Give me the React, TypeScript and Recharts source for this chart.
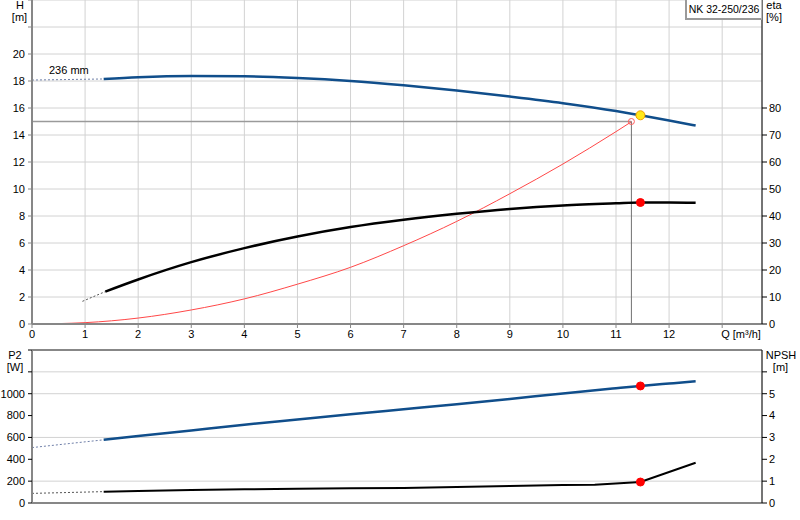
import React from "react";
import {
  LineChart,
  Line,
  XAxis,
  YAxis,
  CartesianGrid,
  ReferenceDot,
  ReferenceLine,
} from "recharts";

// ---- ticks ----
const Q_TICKS = [0, 1, 2, 3, 4, 5, 6, 7, 8, 9, 10, 11, 12, 13];
const H_TICKS = [0, 2, 4, 6, 8, 10, 12, 14, 16, 18, 20, 22, 24];
const ETA_TICKS = [0, 10, 20, 30, 40, 50, 60, 70, 80];
const P2_TICKS = [0, 200, 400, 600, 800, 1000, 1200, 1400];
const NPSH_TICKS = [0, 1, 2, 3, 4, 5, 6];
const Q_AXIS_LABEL = "Q [m³/h]";

// ---- head curve H(Q) ----
const headQ = [1.35, 2, 3, 4, 5, 6, 7, 8, 9, 10, 11, 11.46, 12, 12.5];
const headH = [18.15, 18.28, 18.37, 18.35, 18.22, 18.0, 17.68, 17.3, 16.85, 16.36, 15.78, 15.46, 15.07, 14.7];
const headExtQ = [0, 1.35];
const headExtH = [18.07, 18.15];

// ---- efficiency eta(Q) ----
const etaQ = [1.38, 2, 3, 4, 5, 6, 7, 8, 9, 10, 11, 11.46, 12, 12.5];
const etaV = [12.0, 16.5, 22.9, 28.1, 32.4, 35.9, 38.6, 40.8, 42.6, 43.9, 44.7, 45.0, 45.0, 44.9];
const etaExtQ = [0.95, 1.38];
const etaExtV = [8.4, 12.0];

// ---- system curve ----
const sysQ = [0, 0.5, 1, 2, 3, 4, 5, 6, 7, 8, 9, 10, 11, 11.29];
const sysH = [0, 0.03, 0.1, 0.44, 1.04, 1.86, 2.95, 4.2, 5.8, 7.6, 9.65, 11.85, 14.25, 14.98];

// ---- power P2(Q) ----
const p2Q = [1.35, 2, 3, 4, 5, 6, 7, 8, 9, 10, 11, 11.46, 12, 12.5];
const p2V = [578, 612, 664, 716, 764, 812, 858, 904, 952, 1003, 1050, 1071, 1093, 1113];
const p2ExtQ = [0, 1.35];
const p2ExtV = [507, 578];

// ---- NPSH(Q) ----
const npshQ = [1.35, 2, 3, 4, 5, 6, 7, 8, 9, 10, 10.6, 11.46, 12.5];
const npshV = [0.52, 0.55, 0.59, 0.63, 0.65, 0.67, 0.69, 0.73, 0.78, 0.82, 0.83, 0.96, 1.84];
const npshExtQ = [0, 1.35];
const npshExtV = [0.44, 0.52];

// ---- operating / duty point ----
const opQ = 11.46;
const opH = 15.46;
const opEta = 45.0;
const opP2 = 1071;
const opNpsh = 0.96;
const dutyQ = 11.29;
const dutyH = 15.0;

const zip = (qs: number[], vs: number[]) => qs.map((q, i) => ({ q, v: vs[i] }));

const FONT = "Arial, 'Liberation Sans', sans-serif";
const BLUE = "#104e8b";
const GRID = "#d2d2d2";
const AXIS_GRAY = "#878787";

const XTick = (props: any) => {
  const { x, y, payload } = props;
  if (payload.value === 13) {
    return (
      <text x={x - 1} y={y} dy="0.71em" textAnchor="start" fontSize={11} fill="#000" fontFamily={FONT}>
        {Q_AXIS_LABEL}
      </text>
    );
  }
  return (
    <text x={x} y={y} dy="0.71em" textAnchor="middle" fontSize={11} fill="#000" fontFamily={FONT}>
      {payload.value}
    </text>
  );
};

const tickStyle = { fontSize: 11, fill: "#000", fontFamily: FONT };

const Overlay = ({ left, top, width, text, align = "center" }: any) => (
  <div
    style={{
      position: "absolute",
      left,
      top,
      width,
      textAlign: align,
      fontFamily: FONT,
      fontSize: 11,
      lineHeight: "12px",
      color: "#000",
      whiteSpace: "nowrap",
    }}
  >
    {text}
  </div>
);

export default function App() {
  return (
    <div style={{ position: "absolute", left: 0, top: 0, width: 800, height: 520, background: "#fff", overflow: "hidden" }}>
      <div style={{ position: "absolute", left: 0, top: 0 }}>
        <LineChart width={800} height={345} margin={{ top: 0, right: 0, bottom: 0, left: 0 }}>
          <CartesianGrid stroke={GRID} yAxisId="h" />
          <XAxis
            type="number"
            dataKey="q"
            domain={[0, 13.75]}
            ticks={Q_TICKS}
            allowDataOverflow
            height={21}
            tick={<XTick />}
            tickSize={4}
            tickMargin={2}
            tickLine={{ stroke: AXIS_GRAY }}
            axisLine={{ stroke: AXIS_GRAY, strokeWidth: 2 }}
          />
          <YAxis
            yAxisId="h"
            domain={[0, 24]}
            ticks={H_TICKS}
            width={32}
            tickSize={4}
            tickMargin={3}
            tick={tickStyle}
            tickFormatter={(v: number) => (v <= 20 ? String(v) : "")}
            tickLine={{ stroke: AXIS_GRAY }}
            axisLine={{ stroke: AXIS_GRAY, strokeWidth: 2 }}
          />
          <YAxis
            yAxisId="eta"
            orientation="right"
            domain={[0, 120]}
            ticks={ETA_TICKS}
            width={38}
            tickSize={5}
            tickMargin={2}
            tick={tickStyle}
            tickLine={{ stroke: "#000" }}
            axisLine={{ stroke: "#000" }}
          />
          <ReferenceLine
            yAxisId="h"
            segment={[{ x: 0, y: dutyH }, { x: dutyQ, y: dutyH }]}
            stroke="#9a9a9a"
            strokeWidth={1.3}
          />
          <ReferenceLine
            yAxisId="h"
            segment={[{ x: dutyQ, y: 0 }, { x: dutyQ, y: dutyH }]}
            stroke="#707070"
            strokeWidth={1}
          />
          <Line yAxisId="h" data={zip(sysQ, sysH)} dataKey="v" type="monotone" stroke="#ff4848" strokeWidth={1} dot={false} isAnimationActive={false} />
          <Line yAxisId="h" data={zip(headExtQ, headExtH)} dataKey="v" type="linear" stroke="#6f7fa8" strokeWidth={1} strokeDasharray="2 2" dot={false} isAnimationActive={false} />
          <Line yAxisId="h" data={zip(headQ, headH)} dataKey="v" type="monotone" stroke={BLUE} strokeWidth={2.5} dot={false} isAnimationActive={false} />
          <Line yAxisId="eta" data={zip(etaExtQ, etaExtV)} dataKey="v" type="linear" stroke="#555" strokeWidth={1} strokeDasharray="2 2" dot={false} isAnimationActive={false} />
          <Line yAxisId="eta" data={zip(etaQ, etaV)} dataKey="v" type="monotone" stroke="#000" strokeWidth={2.5} dot={false} isAnimationActive={false} />
          <ReferenceDot yAxisId="h" x={dutyQ} y={dutyH} r={3} fill="none" stroke="#ff5a5a" strokeWidth={1} />
          <ReferenceDot yAxisId="h" x={opQ} y={opH} r={4.5} fill="#ffe81a" stroke="#f0a000" strokeWidth={1} />
          <ReferenceDot yAxisId="eta" x={opQ} y={opEta} r={4} fill="#ff0000" stroke="#ff0000" />
        </LineChart>
      </div>

      <div style={{ position: "absolute", left: 0, top: 345 }}>
        <LineChart width={800} height={175} margin={{ top: 5, right: 0, bottom: 0, left: 0 }}>
          <CartesianGrid stroke={GRID} yAxisId="p2" />
          <XAxis
            type="number"
            dataKey="q"
            domain={[0, 13.75]}
            ticks={Q_TICKS}
            allowDataOverflow
            height={17}
            tick={false}
            tickLine={false}
            axisLine={{ stroke: AXIS_GRAY, strokeWidth: 2 }}
          />
          <YAxis
            yAxisId="p2"
            domain={[0, 1400]}
            ticks={P2_TICKS}
            width={32}
            tickSize={4}
            tickMargin={3}
            tick={tickStyle}
            tickFormatter={(v: number) => (v <= 1000 ? String(v) : "")}
            tickLine={{ stroke: "#000" }}
            axisLine={{ stroke: AXIS_GRAY, strokeWidth: 2 }}
          />
          <YAxis
            yAxisId="npsh"
            orientation="right"
            domain={[0, 7]}
            ticks={NPSH_TICKS}
            width={38}
            tickSize={5}
            tickMargin={2}
            tick={tickStyle}
            tickFormatter={(v: number) => (v <= 5 ? String(v) : "")}
            tickLine={{ stroke: "#000" }}
            axisLine={{ stroke: "#000" }}
          />
          <ReferenceLine yAxisId="p2" y={1400} stroke={AXIS_GRAY} strokeWidth={2} ifOverflow="visible" />
          <Line yAxisId="p2" data={zip(p2ExtQ, p2ExtV)} dataKey="v" type="linear" stroke="#6f7fa8" strokeWidth={1} strokeDasharray="2 2" dot={false} isAnimationActive={false} />
          <Line yAxisId="p2" data={zip(p2Q, p2V)} dataKey="v" type="monotone" stroke={BLUE} strokeWidth={2.5} dot={false} isAnimationActive={false} />
          <Line yAxisId="npsh" data={zip(npshExtQ, npshExtV)} dataKey="v" type="linear" stroke="#555" strokeWidth={1} strokeDasharray="2 2" dot={false} isAnimationActive={false} />
          <Line yAxisId="npsh" data={zip(npshQ, npshV)} dataKey="v" type="linear" stroke="#000" strokeWidth={2} dot={false} isAnimationActive={false} />
          <ReferenceDot yAxisId="p2" x={opQ} y={opP2} r={4} fill="#ff0000" stroke="#ff0000" />
          <ReferenceDot yAxisId="npsh" x={opQ} y={opNpsh} r={4} fill="#ff0000" stroke="#ff0000" />
        </LineChart>
      </div>

      {/* axis titles */}
      <Overlay left={0} top={-1} width={40} text="H" />
      <Overlay left={0} top={11} width={39} text="[m]" />
      <Overlay left={754} top={-1} width={40} text="eta" />
      <Overlay left={754} top={11} width={40} text="[%]" />
      <Overlay left={-5} top={349} width={40} text="P2" />
      <Overlay left={-5} top={361} width={40} text="[W]" />
      <Overlay left={761} top={349} width={40} text="NPSH" />
      <Overlay left={761} top={361} width={39} text="[m]" />
      <Overlay left={49} top={64} width={60} text="236 mm" align="left" />

      <div
        style={{
          position: "absolute",
          left: 685,
          top: -1,
          width: 74,
          height: 18,
          background: "#fff",
          borderTop: "1px solid #bbb",
          borderRight: "1px solid #bbb",
          borderLeft: "2px solid #9a9a9a",
          borderBottom: "2px solid #9a9a9a",
          fontFamily: FONT,
          fontSize: 10.5,
          lineHeight: "19px",
          textAlign: "center",
          color: "#000",
          whiteSpace: "nowrap",
        }}
      >
        NK 32-250/236
      </div>
    </div>
  );
}
